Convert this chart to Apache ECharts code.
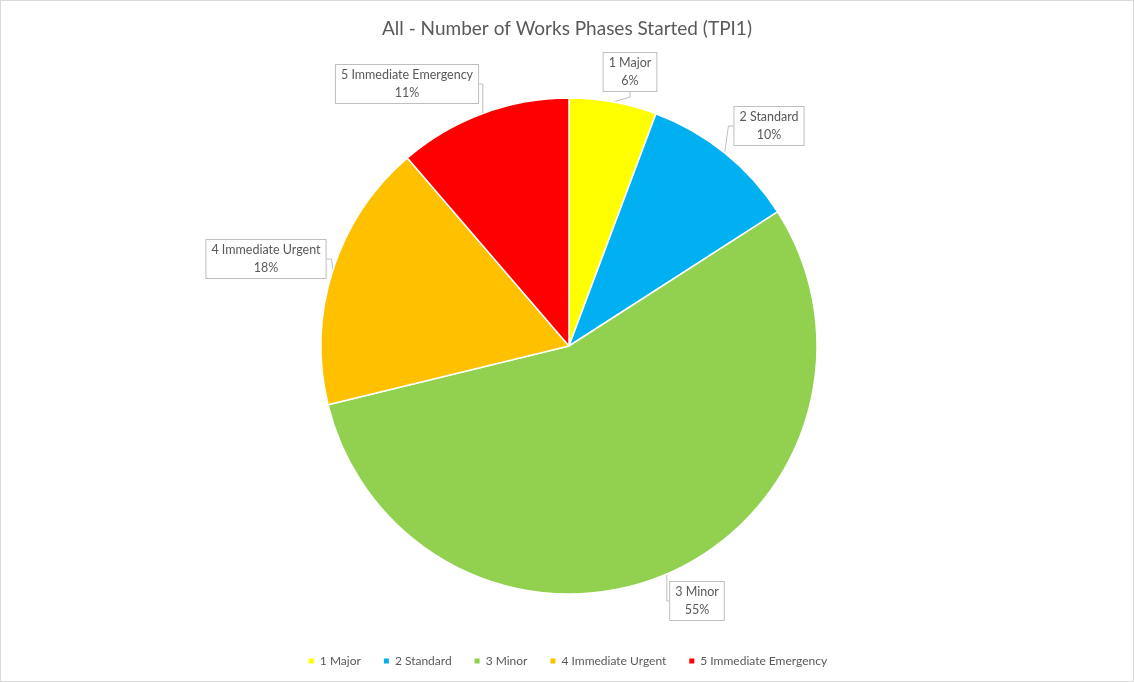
<!DOCTYPE html>
<html>
<head>
<meta charset="utf-8">
<script src="https://cdn.jsdelivr.net/npm/echarts@6/dist/echarts.min.js"></script>
<style>
  html, body { margin: 0; padding: 0; background: #fff; }
  #chart { width: 1132px; height: 680px; border: 1px solid #d9d9d9; }
</style>
</head>
<body>
<div id="chart"></div>
<script>
// data
var categories = ['1 Major', '2 Standard', '3 Minor', '4 Immediate Urgent', '5 Immediate Emergency'];
var shares = [5.7, 10.2, 55.3, 17.5, 11.3];
var colours = ['#ffff00', '#00b0f0', '#92d050', '#ffc000', '#ff0000'];

// where the callout boxes sit (centre of each box)
var labelSpots = [[629, 71], [768, 125], [696, 600], [265, 258], [406, 83]];

var dom = echarts.init(document.getElementById('chart'));
var font = 'Lato, "Open Sans", sans-serif';

var option = {
  title: {
    text: 'All - Number of Works Phases Started (TPI1)',
    left: 'center',
    top: 13,
    textStyle: { fontFamily: font, fontSize: 19, fontWeight: 'normal', color: '#595959' }
  },
  legend: {
    data: categories,
    bottom: 9,
    left: 'center',
    icon: 'rect',
    itemWidth: 7,
    itemHeight: 7,
    itemGap: 21,
    textStyle: { fontFamily: font, fontSize: 12, color: '#595959' }
  },
  series: [{
    type: 'pie',
    center: [568, 345],
    radius: 248,
    startAngle: 90,
    clockwise: true,
    animation: false,
    itemStyle: { borderColor: '#fff', borderWidth: 1.5 },
    label: {
      show: true,
      formatter: function (p) { return p.name + '\n' + Math.round(p.value) + '%'; },
      fontFamily: font,
      fontSize: 12.5,
      lineHeight: 18,
      color: '#595959',
      align: 'center',
      backgroundColor: '#fff',
      borderColor: '#bfbfbf',
      borderWidth: 1,
      padding: [1, 5]
    },
    labelLine: {
      show: true,
      length: 10,
      length2: 5,
      lineStyle: { color: '#bfbfbf', width: 1 }
    },
    labelLayout: function (p) {
      var s = labelSpots[p.dataIndex];
      return { x: s[0], y: s[1], align: 'center', verticalAlign: 'middle' };
    },
    data: categories.map(function (c, i) {
      return { name: c, value: shares[i], itemStyle: { color: colours[i] } };
    })
  }]
};
dom.setOption(option);
window.addEventListener('resize', function () { dom.resize(); });
</script>
</body>
</html>
